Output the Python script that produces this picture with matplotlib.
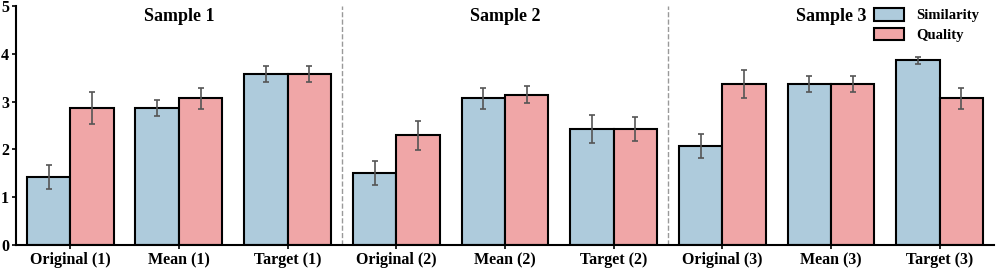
import matplotlib.pyplot as plt
import numpy as np

plt.rcParams['font.family'] = ['Liberation Serif', 'DejaVu Serif']
plt.rcParams['font.weight'] = 'bold'

# === data ===
categories = ["Original (1)", "Mean (1)", "Target (1)",
              "Original (2)", "Mean (2)", "Target (2)",
              "Original (3)", "Mean (3)", "Target (3)"]
similarity = [1.42, 2.86, 3.57, 1.50, 3.07, 2.43, 2.07, 3.36, 3.86]
similarity_err = [0.25, 0.17, 0.17, 0.25, 0.22, 0.29, 0.26, 0.17, 0.08]
quality = [2.86, 3.07, 3.57, 2.29, 3.14, 2.43, 3.36, 3.36, 3.07]
quality_err = [0.33, 0.22, 0.17, 0.30, 0.18, 0.25, 0.29, 0.17, 0.22]
group_titles = ["Sample 1", "Sample 2", "Sample 3"]

# === style ===
c_sim = "#aecbdc"
c_qual = "#f0a6a7"
bar_w = 0.4

fig = plt.figure(figsize=(9.97, 2.68), dpi=100)
ax = fig.add_axes([0.016, 0.086, 0.981, 0.892])

x = np.arange(len(categories))
err_kw = dict(ecolor="#555555", elinewidth=1.2, capsize=2.5, capthick=1.2)
ax.bar(x - bar_w / 2, similarity, bar_w, yerr=similarity_err, color=c_sim,
       edgecolor="black", linewidth=1.5, label="Similarity", error_kw=err_kw)
ax.bar(x + bar_w / 2, quality, bar_w, yerr=quality_err, color=c_qual,
       edgecolor="black", linewidth=1.5, label="Quality", error_kw=err_kw)

# group separators and titles
for g in range(1, len(group_titles)):
    ax.axvline(3 * g - 0.5, color="#999999", linestyle="--", linewidth=1)
for g, t in enumerate(group_titles):
    ax.text(3 * g + 1, 4.96, t, ha="center", va="top", fontsize=13,
            fontweight="bold")

ax.set_xlim(-0.5, 8.5)
ax.set_ylim(0, 5)
ax.set_xticks(x)
ax.set_xticklabels(categories, fontsize=11.5, fontweight="bold")
ax.set_yticks(range(6))
ax.set_yticklabels([str(i) for i in range(6)], fontsize=11.5, fontweight="bold")
ax.tick_params(axis="both", length=3, width=1.2, pad=2)
for s in ["top", "right"]:
    ax.spines[s].set_visible(False)
for s in ["left", "bottom"]:
    ax.spines[s].set_linewidth(1.5)

leg = ax.legend(loc="upper right", bbox_to_anchor=(0.992, 1.02),
                frameon=False, fontsize=10.5, handlelength=2.1,
                handleheight=0.9, borderaxespad=0.1, labelspacing=0.4,
                handletextpad=0.8)

fig.savefig("out.png", dpi=100)
